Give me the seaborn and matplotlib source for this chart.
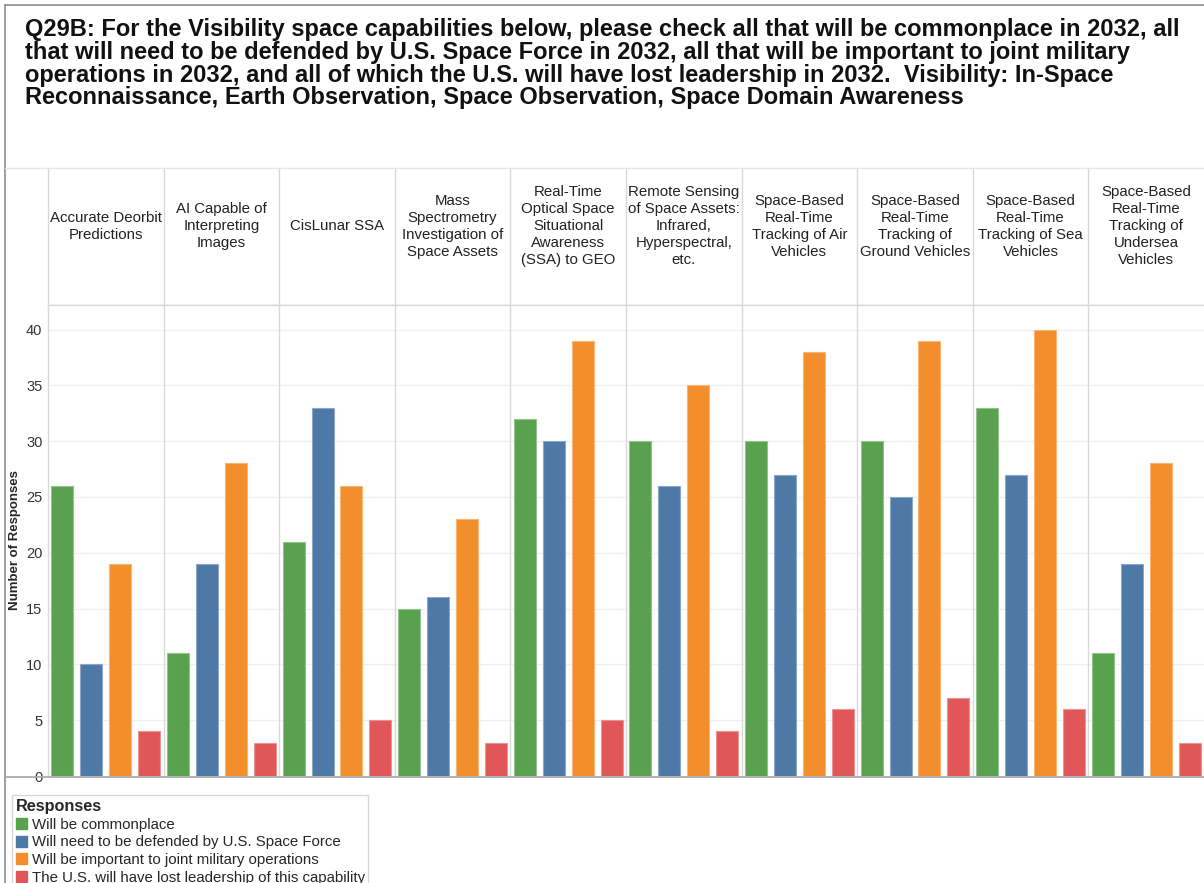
import matplotlib
matplotlib.use("Agg")
import matplotlib.pyplot as plt
from matplotlib.lines import Line2D
from matplotlib.patches import Patch
import matplotlib.colors as mcolors
import numpy as np
import pandas as pd
import seaborn as sns

# Data
capabilities = [
    "Accurate Deorbit\nPredictions",
    "AI Capable of\nInterpreting\nImages",
    "CisLunar SSA",
    "Mass\nSpectrometry\nInvestigation of\nSpace Assets",
    "Real-Time\nOptical Space\nSituational\nAwareness\n(SSA) to GEO",
    "Remote Sensing\nof Space Assets:\nInfrared,\nHyperspectral,\netc.",
    "Space-Based\nReal-Time\nTracking of Air\nVehicles",
    "Space-Based\nReal-Time\nTracking of\nGround Vehicles",
    "Space-Based\nReal-Time\nTracking of Sea\nVehicles",
    "Space-Based\nReal-Time\nTracking of\nUndersea\nVehicles",
]
responses = [
    "Will be commonplace",
    "Will need to be defended by U.S. Space Force",
    "Will be important to joint military operations",
    "The U.S. will have lost leadership of this capability",
]
commonplace = [26, 11, 21, 15, 32, 30, 30, 30, 33, 11]
defended = [10, 19, 33, 16, 30, 26, 27, 25, 27, 19]
important = [19, 28, 26, 23, 39, 35, 38, 39, 40, 28]
lost_lead = [4, 3, 5, 3, 5, 4, 6, 7, 6, 3]
colors = ["#59A14F", "#4E79A7", "#F28E2B", "#E15759"]

title = ("Q29B: For the Visibility space capabilities below, please check all that will be commonplace in 2032, all\n"
         "that will need to be defended by U.S. Space Force in 2032, all that will be important to joint military\n"
         "operations in 2032, and all of which the U.S. will have lost leadership in 2032.  Visibility: In-Space\n"
         "Reconnaissance, Earth Observation, Space Observation, Space Domain Awareness")

rows = []
for i, cap in enumerate(capabilities):
    for resp, vals in zip(responses, [commonplace, defended, important, lost_lead]):
        rows.append({"Capability": cap, "Response": resp, "Count": vals[i]})
df = pd.DataFrame(rows)

sns.set_style("white")
plt.rcParams["font.family"] = ["Liberation Sans", "DejaVu Sans"]

fig = plt.figure(figsize=(12.04, 8.83), dpi=100)
W, H = 1204, 883
gs = fig.add_gridspec(2, len(capabilities), left=48 / W, right=1.0,
                      top=1 - 168 / H, bottom=1 - 776 / H,
                      height_ratios=[137, 471], wspace=0, hspace=0)

sep = "#d9d9d9"
plot_axes = []
for i, cap in enumerate(capabilities):
    hax = fig.add_subplot(gs[0, i])
    hax.set_xticks([])
    hax.set_yticks([])
    for s in hax.spines.values():
        s.set_color(sep)
        s.set_linewidth(1)
    hax.spines["top"].set_visible(False)
    hax.spines["right"].set_visible(False)
    hax.text(0.5, 0.575, cap, ha="center", va="center", fontsize=10.8,
             linespacing=1.28, color="#222222", transform=hax.transAxes)

    ax = fig.add_subplot(gs[1, i], sharey=plot_axes[0] if plot_axes else None)
    sub = df[df["Capability"] == cap]
    sns.barplot(data=sub, x="Response", y="Count", hue="Response",
                order=responses, hue_order=responses, palette=colors,
                saturation=1, width=0.76, legend=False, ax=ax)
    for p in ax.patches:
        fc = np.array(mcolors.to_rgb(p.get_facecolor()))
        p.set_edgecolor(fc + (1 - fc) * 0.35)
        p.set_linewidth(0.8)
    ax.set_xlim(-0.5, 3.5)
    ax.set_ylim(0, 42.2)
    ax.set_xlabel("")
    ax.set_ylabel("")
    ax.set_xticks([])
    ax.set_yticks(np.arange(0, 41, 5))
    ax.yaxis.grid(True, color="#f0f0f0", linewidth=1)
    ax.set_axisbelow(True)
    ax.tick_params(axis="y", length=0, labelsize=10.5, labelcolor="#333333", pad=4)
    for s in ["top", "right", "bottom"]:
        ax.spines[s].set_visible(False)
    ax.spines["left"].set_color(sep)
    ax.spines["left"].set_linewidth(1)
    if i > 0:
        ax.tick_params(axis="y", labelleft=False)
    plot_axes.append(ax)

plot_axes[0].set_ylabel("Number of Responses", fontsize=9.5, fontweight="bold")
plot_axes[0].yaxis.set_label_coords(-27 / 115.6, 0.5)

# frame and separators
fig.add_artist(Line2D([5 / W, 5 / W], [0, 1 - 5 / H], color="#8c8c8c", lw=1.2))
fig.add_artist(Line2D([5 / W, 1], [1 - 5 / H, 1 - 5 / H], color="#8c8c8c", lw=1.2))
fig.add_artist(Line2D([5 / W, 1], [1 - 168 / H, 1 - 168 / H], color="#e6e6e6", lw=1))
fig.add_artist(Line2D([48 / W, 1], [1 - 305 / H, 1 - 305 / H], color=sep, lw=1))
fig.add_artist(Line2D([5 / W, 1], [1 - 776.5 / H, 1 - 776.5 / H], color="#a6a6a6", lw=1.2))

fig.text(25 / W, 1 - 18 / H, title, ha="left", va="top", fontsize=17,
         fontweight="bold", linespacing=0.99, color="#111111")

handles = [Patch(facecolor=c, edgecolor=c) for c in colors]
leg = fig.legend(handles, responses, title="Responses", loc="upper left",
                 bbox_to_anchor=(12 / W, 1 - 795 / H), frameon=True,
                 fancybox=False, edgecolor="#cccccc", fontsize=10.8,
                 title_fontproperties={"weight": "bold", "size": 11.7},
                 alignment="left", handlelength=0.75, handleheight=0.75,
                 handletextpad=0.3, labelspacing=0.25, borderpad=0.25,
                 borderaxespad=0)
leg.get_frame().set_linewidth(1)

fig.savefig("out.png", dpi=100)
